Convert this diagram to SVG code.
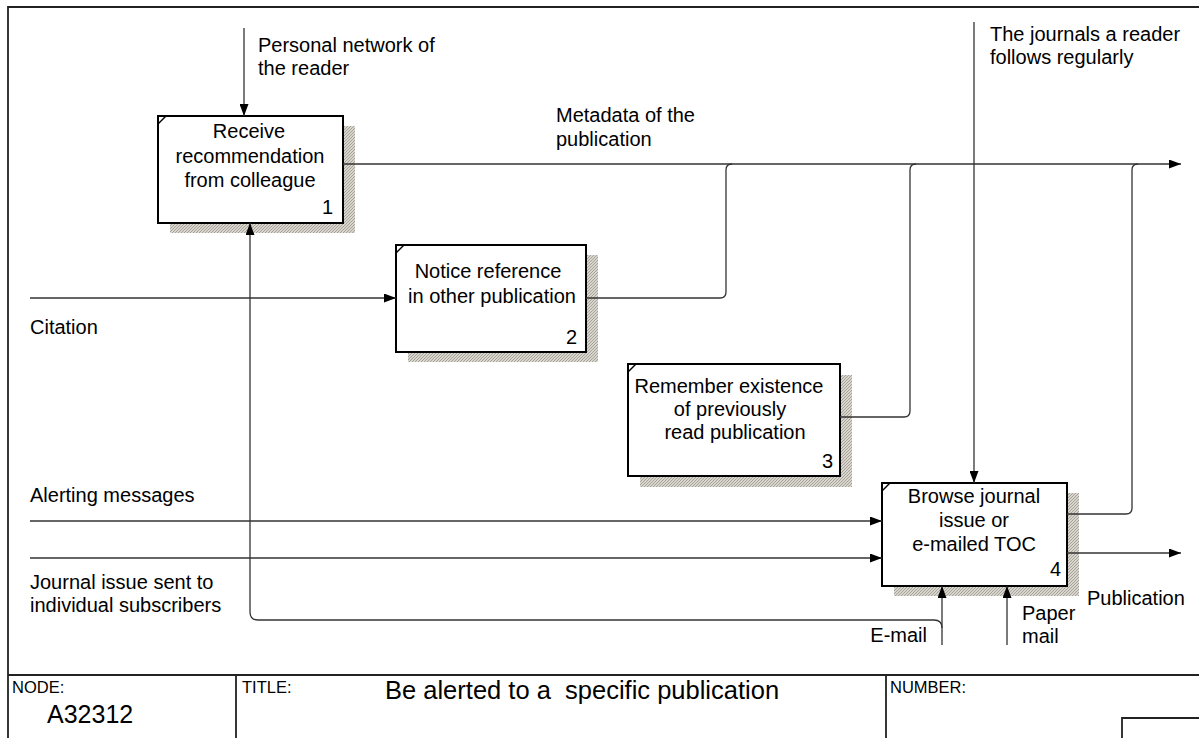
<svg xmlns="http://www.w3.org/2000/svg" width="1199" height="738" viewBox="0 0 1199 738">
<style>
text{font-family:"Liberation Sans",Arial,sans-serif;fill:#000}
.lbl{font-size:20px}
.box{fill:#fff;stroke:#000;stroke-width:2}
.tick{stroke:#000;stroke-width:1.5}
.sh{fill:url(#hatch)}
.c{fill:none;stroke:#333;stroke-width:1.3}
.fr{fill:none;stroke:#222;stroke-width:1.8}
.bt{font-size:20px;text-anchor:middle}
.num{font-size:20px;text-anchor:end}
.hd{font-size:16.5px}
</style>
<defs>
<pattern id="hatch" width="3" height="3" patternUnits="userSpaceOnUse">
<rect width="3" height="3" fill="#d8d5ce"/>
<path d="M0,3 L3,0" stroke="#a8a399" stroke-width="1"/>
</pattern>
<marker id="ar" markerWidth="12" markerHeight="9" refX="12" refY="4.5" orient="auto" markerUnits="userSpaceOnUse">
<path d="M0,0 L12,4.5 L0,9 z" fill="#000"/>
</marker>
</defs>
<rect width="1199" height="738" fill="#fff"/>

<g id="frame">
<path class="fr" d="M8,738 V7 H1199"/>
<path class="fr" d="M8,675 H1199 M236,675 V738 M886,675 V738"/>
<path class="fr" d="M1122,738 V718 H1199"/>
<text class="hd" x="12" y="693">NODE:</text>
<text x="47" y="723" font-size="25">A32312</text>
<text class="hd" x="242" y="693">TITLE:</text>
<text x="385" y="699" font-size="25.5" xml:space="preserve">Be alerted to a  specific publication</text>
<text class="hd" x="890" y="693">NUMBER:</text>
</g>

<g id="node1">
<rect class="sh" x="170" y="126" width="185" height="107"/>
<rect class="box" x="158" y="116" width="185" height="107"/>
<path class="tick" d="M158,124 L166,116"/>
<text class="bt" x="249" y="138">Receive</text>
<text class="bt" x="250" y="163">recommendation</text>
<text class="bt" x="250" y="187">from colleague</text>
<text class="num" x="333" y="214">1</text>
</g>

<g id="node2">
<rect class="sh" x="408" y="255" width="190" height="107"/>
<rect class="box" x="396" y="245" width="190" height="107"/>
<path class="tick" d="M396,253 L404,245"/>
<text class="bt" x="488" y="278">Notice reference</text>
<text class="bt" x="492" y="303">in other publication</text>
<text class="num" x="577" y="344">2</text>
</g>

<g id="node3">
<rect class="sh" x="640" y="375" width="212" height="112"/>
<rect class="box" x="628" y="364" width="212" height="112"/>
<path class="tick" d="M628,372 L636,364"/>
<text class="bt" x="729" y="393">Remember existence</text>
<text class="bt" x="730" y="416">of previously</text>
<text class="bt" x="735" y="439">read publication</text>
<text class="num" x="833" y="468">3</text>
</g>

<g id="node4">
<rect class="sh" x="894" y="493" width="185" height="103"/>
<rect class="box" x="882" y="483" width="185" height="103"/>
<path class="tick" d="M882,491 L890,483"/>
<text class="bt" x="974" y="503">Browse journal</text>
<text class="bt" x="974" y="527">issue or</text>
<text class="bt" x="974" y="551">e-mailed TOC</text>
<text class="num" x="1061" y="576">4</text>
</g>

<g id="connectors">
<path class="c" d="M244,28 V116" marker-end="url(#ar)"/>
<path class="c" d="M343,164 H1181" marker-end="url(#ar)"/>
<path class="c" d="M586,298 H720 Q726,298 726,292 V170 Q726,164 732,164"/>
<path class="c" d="M840,417 H904 Q910,417 910,411 V170 Q910,164 916,164"/>
<path class="c" d="M1067,514 H1126 Q1132,514 1132,508 V170 Q1132,164 1138,164"/>
<path class="c" d="M974,22 V483" marker-end="url(#ar)"/>
<path class="c" d="M30,298 H396" marker-end="url(#ar)"/>
<path class="c" d="M30,521 H882" marker-end="url(#ar)"/>
<path class="c" d="M30,558 H882" marker-end="url(#ar)"/>
<path class="c" d="M1067,553 H1181" marker-end="url(#ar)"/>
<path class="c" d="M942,645 V586" marker-end="url(#ar)"/>
<path class="c" d="M942,628 Q942,620 934,620 H258 Q250,620 250,612 V223" marker-end="url(#ar)"/>
<path class="c" d="M1007,645 V586" marker-end="url(#ar)"/>
<text class="lbl" x="258" y="52">Personal network of</text>
<text class="lbl" x="258" y="75">the reader</text>
<text class="lbl" x="556" y="122">Metadata of the</text>
<text class="lbl" x="556" y="146">publication</text>
<text class="lbl" x="990" y="41">The journals a reader</text>
<text class="lbl" x="990" y="64">follows regularly</text>
<text class="lbl" x="30" y="334">Citation</text>
<text class="lbl" x="30" y="502">Alerting messages</text>
<text class="lbl" x="30" y="589">Journal issue sent to</text>
<text class="lbl" x="30" y="612">individual subscribers</text>
<text class="lbl" x="1087" y="605">Publication</text>
<text class="lbl" x="927" y="642" text-anchor="end">E-mail</text>
<text class="lbl" x="1022" y="620">Paper</text>
<text class="lbl" x="1022" y="643">mail</text>
</g>
</svg>
